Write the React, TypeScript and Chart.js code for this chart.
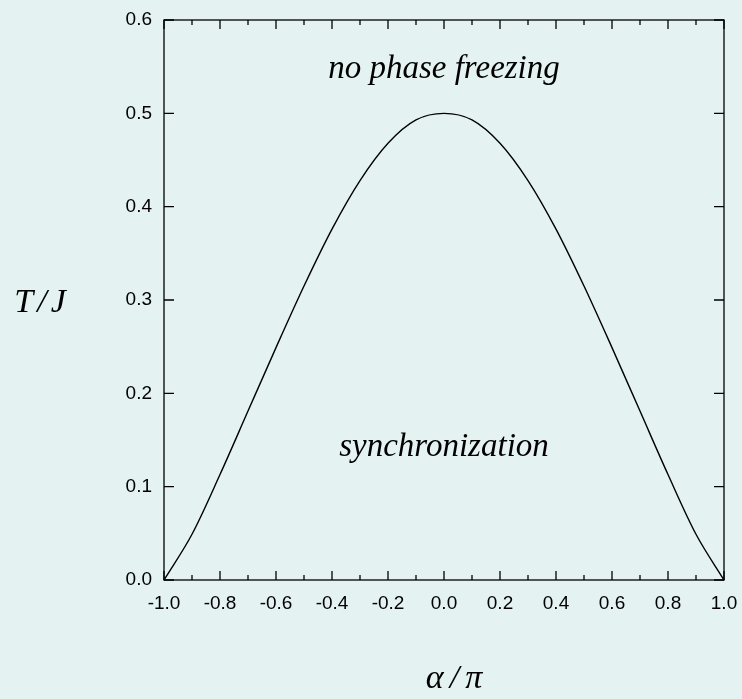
import React, { useEffect, useRef } from "react";
import { Chart, registerables } from "chart.js";

Chart.register(...registerables);

const alphaValues = [
  -1.0, -0.9, -0.8, -0.7, -0.6, -0.5, -0.4, -0.3, -0.2, -0.1, 0.0,
  0.1, 0.2, 0.3, 0.4, 0.5, 0.6, 0.7, 0.8, 0.9, 1.0,
];
const temperatureValues = [
  0.0, 0.049, 0.113, 0.181, 0.249, 0.315, 0.376, 0.428, 0.468, 0.493, 0.5,
  0.493, 0.468, 0.428, 0.376, 0.315, 0.249, 0.181, 0.113, 0.049, 0.0,
];
const xMajorTicks = [-1.0, -0.8, -0.6, -0.4, -0.2, 0.0, 0.2, 0.4, 0.6, 0.8, 1.0];
const xMinorTicks = [-0.9, -0.7, -0.5, -0.3, -0.1, 0.1, 0.3, 0.5, 0.7, 0.9];
const yTicks = [0.0, 0.1, 0.2, 0.3, 0.4, 0.5, 0.6];

const xLabel = "α/π";
const yLabel = "T/J";
const upperRegionLabel = "no phase freezing";
const lowerRegionLabel = "synchronization";
const upperLabelPos = { x: 0.0, y: 0.538 };
const lowerLabelPos = { x: 0.0, y: 0.133 };

const BG = "rgb(228,242,242)";

const framePlugin = {
  id: "frame",
  beforeDraw(chart: any) {
    const { ctx, width, height } = chart;
    ctx.save();
    ctx.fillStyle = BG;
    ctx.fillRect(0, 0, width, height);
    ctx.restore();
  },
  afterDatasetsDraw(chart: any) {
    const { ctx, chartArea: a, scales } = chart;
    const xs = scales.x;
    const ys = scales.y;
    ctx.save();
    ctx.strokeStyle = "#000";
    ctx.lineWidth = 1.3;
    ctx.strokeRect(a.left, a.top, a.right - a.left, a.bottom - a.top);
    ctx.beginPath();
    const drawX = (v: number, len: number) => {
      const px = xs.getPixelForValue(v);
      ctx.moveTo(px, a.bottom);
      ctx.lineTo(px, a.bottom - len);
      ctx.moveTo(px, a.top);
      ctx.lineTo(px, a.top + len);
    };
    xMajorTicks.forEach((v) => drawX(v, 9));
    xMinorTicks.forEach((v) => drawX(v, 5));
    yTicks.forEach((v) => {
      const py = ys.getPixelForValue(v);
      ctx.moveTo(a.left, py);
      ctx.lineTo(a.left + 10, py);
      ctx.moveTo(a.right, py);
      ctx.lineTo(a.right - 10, py);
    });
    ctx.stroke();

    ctx.fillStyle = "#000";
    ctx.textAlign = "center";
    ctx.textBaseline = "alphabetic";
    ctx.font = "italic 33px 'Liberation Serif'";
    ctx.fillText(upperRegionLabel, xs.getPixelForValue(upperLabelPos.x), ys.getPixelForValue(upperLabelPos.y));
    ctx.fillText(lowerRegionLabel, xs.getPixelForValue(lowerLabelPos.x), ys.getPixelForValue(lowerLabelPos.y));

    ctx.font = "italic 34px 'Liberation Serif'";
    (ctx as any).letterSpacing = "4px";
    ctx.fillText(yLabel, 42, (a.top + a.bottom) / 2 + 12);
    (ctx as any).letterSpacing = "6px";
    ctx.fillText(xLabel, 457, 688);
    (ctx as any).letterSpacing = "0px";
    ctx.restore();
  },
};

export default function App() {
  const canvasRef = useRef<HTMLCanvasElement | null>(null);

  useEffect(() => {
    document.body.style.margin = "0";
    document.body.style.background = BG;
    const canvas = canvasRef.current;
    if (!canvas) return;
    const points = alphaValues.map((x, i) => ({ x, y: temperatureValues[i] }));
    const chart = new Chart(canvas, {
      type: "line",
      data: {
        datasets: [
          {
            data: points,
            borderColor: "#000",
            borderWidth: 1.4,
            pointRadius: 0,
            cubicInterpolationMode: "monotone",
            fill: false,
          },
        ],
      },
      options: {
        animation: false,
        responsive: false,
        maintainAspectRatio: false,
        layout: { padding: { top: 20, right: 18, left: 0, bottom: 0 } },
        plugins: {
          legend: { display: false },
          tooltip: { enabled: false },
          title: { display: false },
        },
        scales: {
          x: {
            type: "linear",
            min: -1,
            max: 1,
            grid: { display: false, drawTicks: false },
            border: { display: false },
            afterFit: (s: any) => {
              s.height = 119;
              s.paddingLeft = 0;
              s.paddingRight = 0;
            },
            afterBuildTicks: (s: any) => {
              s.ticks = xMajorTicks.map((v) => ({ value: v }));
            },
            ticks: {
              padding: 12,
              color: "#000",
              font: { family: "'Liberation Sans', Arial, sans-serif", size: 19 },
              maxRotation: 0,
              autoSkip: false,
              callback: (v: any) => (Math.abs(Number(v)) < 1e-9 ? 0 : Number(v)).toFixed(1),
            },
          },
          y: {
            type: "linear",
            min: 0,
            max: 0.6,
            grid: { display: false, drawTicks: false },
            border: { display: false },
            afterFit: (s: any) => {
              s.width = 164;
              s.paddingTop = 0;
              s.paddingBottom = 0;
            },
            afterBuildTicks: (s: any) => {
              s.ticks = yTicks.map((v) => ({ value: v }));
            },
            ticks: {
              padding: 12,
              color: "#000",
              font: { family: "'Liberation Sans', Arial, sans-serif", size: 19 },
              autoSkip: false,
              callback: (v: any) => Number(v).toFixed(1),
            },
          },
        },
      },
      plugins: [framePlugin],
    });
    return () => chart.destroy();
  }, []);

  return (
    <div style={{ width: 742, height: 699, background: BG }}>
      <canvas ref={canvasRef} width={742} height={699} style={{ display: "block" }} />
    </div>
  );
}
